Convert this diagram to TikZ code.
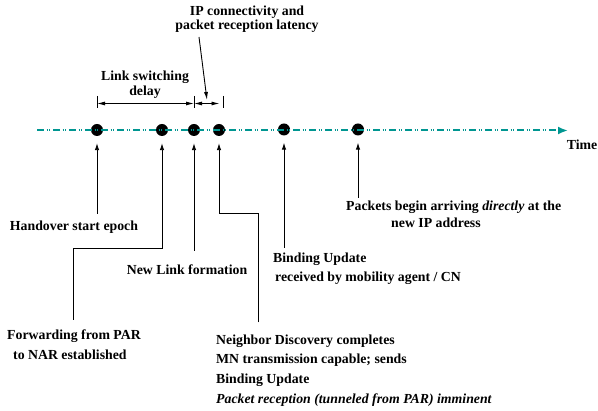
\documentclass[tikz,border=0pt]{standalone}
\usepackage{fontspec}
\setmainfont{Liberation Serif}
\usetikzlibrary{arrows.meta}
\definecolor{tealline}{RGB}{0,150,145}
\begin{document}
\begin{tikzpicture}[x=1pt,y=-1pt,
 lbl/.style={font=\fontsize{13.8}{16}\selectfont\bfseries, inner sep=0pt},
 dotnode/.style={circle,fill=black,inner sep=0pt,minimum size=12pt},
 tline/.style={draw=tealline,line width=2pt,dash pattern=on 7pt off 2.5pt on 1pt off 1.5pt on 1pt off 3pt,-{Latex[length=10pt,width=8pt]}},
 arr/.style={line width=0.9pt,-{Latex[length=7pt,width=4.5pt]}},
 thin/.style={line width=0.9pt},
 dimarr/.style={line width=0.9pt,{Latex[length=8pt,width=4pt]}-{Latex[length=8pt,width=4pt]}}]
\useasboundingbox (0,0) rectangle (598,411);
% dots
\node[dotnode] (d1) at (97,130) {};
\node[dotnode] (d2) at (162,130) {};
\node[dotnode] (d3) at (194,130) {};
\node[dotnode] (d4) at (219,130) {};
\node[dotnode] (d5) at (284,129.5) {};
\node[dotnode] (d6) at (358,129.5) {};
% timeline
\coordinate (ts) at (37,130.5);
\coordinate (te) at (568,130.5);
\draw[tline] (ts) -- (te);
\node[lbl,anchor=base east] (t) at (597.5,149.5) {Time};
% labels (base anchor = baseline of the last line)
\node[lbl,anchor=base] (h) at (74,231) {Handover start epoch};
\node[lbl,anchor=base west,align=left] (f) at (7,359.5) {Forwarding from PAR\\[4pt]\hspace*{6pt}to NAR established};
\node[lbl,anchor=base] (n) at (187,274.5) {New Link formation};
\node[lbl,anchor=base west,align=left] (nd) at (216,403.5) {Neighbor Discovery completes\\[3.8pt]MN transmission capable; sends\\[3.8pt]Binding Update\\[3.8pt]\itshape Packet reception (tunneled from PAR) imminent};
\node[lbl,anchor=base west,align=left] (b) at (273,281.5) {Binding Update\\[2.5pt]\hspace*{2pt}received by mobility agent / CN};
\node[lbl,anchor=base west,align=left] (p) at (346,228) {Packets begin arriving \textit{directly} at the\\[1.3pt]\hspace*{45pt}new IP address};
\node[lbl,anchor=base,align=center] (ls) at (145,96) {Link switching\\[-1pt]delay};
\node[lbl,anchor=base,align=center] (ip) at (247,29.5) {IP connectivity and\\[-2.5pt]packet reception latency};
% connectors from labels to dots
\coordinate (h0) at (97,214);
\draw[arr] (h0) -- ([yshift=-7pt]d1.south);
\coordinate (f0) at (73,320);
\coordinate (f1) at (73,248);
\draw[arr] (f0) -- (f1) -| ([yshift=-7pt]d2.south);
\coordinate (n0) at (194,251);
\draw[arr] (n0) -- ([yshift=-7pt]d3.south);
\coordinate (g0) at (258.5,322.5);
\coordinate (g1) at (258.5,213);
\draw[arr] (g0) -- (g1) -| ([yshift=-7pt]d4.south);
\coordinate (b0) at (284,248);
\draw[arr] (b0) -- ([yshift=-7pt]d5.south);
\coordinate (p0) at (358,198);
\draw[arr] (p0) -- ([yshift=-7pt]d6.south);
% dimension lines
\coordinate (k1t) at (97,96);   \coordinate (k1b) at (97,108);
\coordinate (k2t) at (194,96);  \coordinate (k2b) at (194,108);
\coordinate (k3t) at (223,96);  \coordinate (k3b) at (223,108);
\draw[thin] (k1t) -- (k1b);
\draw[thin] (k2t) -- (k2b);
\draw[thin] (k3t) -- (k3b);
\coordinate (m1) at (97,103.5);
\coordinate (m2) at (194,103.5);
\coordinate (m3) at (219.5,103.5);
\draw[dimarr] (m1) -- (m2);
\draw[dimarr] (m2) -- (m3);
% IP connectivity pointer
\coordinate (i0) at (199,37);
\coordinate (i1) at (207,100);
\draw[line width=0.9pt,-{Latex[length=8pt,width=4pt]}] (i0) -- (i1);
\end{tikzpicture}
\end{document}
